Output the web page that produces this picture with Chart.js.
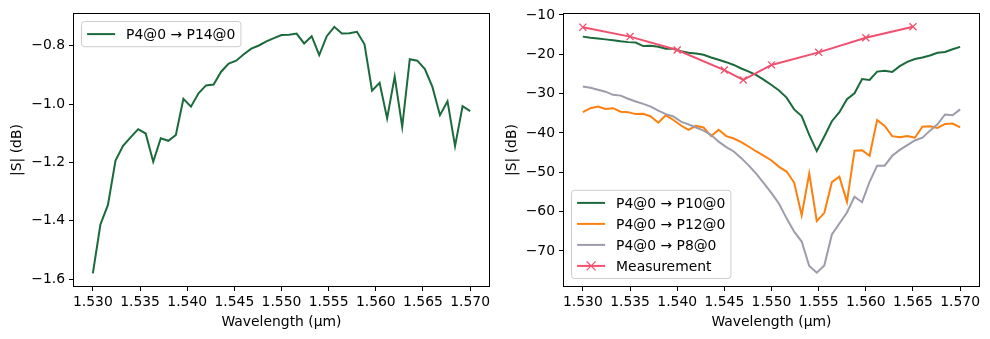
<!DOCTYPE html>
<html>
<head>
<meta charset="utf-8">
<script src="https://cdn.jsdelivr.net/npm/chart.js@4/dist/chart.umd.min.js"></script>
<style>
  body { margin: 0; background: #fff; }
  .wrap { position: absolute; top: 0; width: 495px; height: 339px; }
</style>
</head>
<body>
<div class="wrap" style="left:0"><canvas id="leftChart"></canvas></div>
<div class="wrap" style="left:495px"><canvas id="rightChart"></canvas></div>
<script>
// wavelength samples (µm)
const wavelengths = [1.5300, 1.5308, 1.5316, 1.5324, 1.5332, 1.5340, 1.5348, 1.5356, 1.5364, 1.5372,
    1.5380, 1.5388, 1.5396, 1.5404, 1.5412, 1.5420, 1.5428, 1.5436, 1.5444, 1.5452,
    1.5460, 1.5468, 1.5476, 1.5484, 1.5492, 1.5500, 1.5508, 1.5516, 1.5524, 1.5532,
    1.5540, 1.5548, 1.5556, 1.5564, 1.5572, 1.5580, 1.5588, 1.5596, 1.5604, 1.5612,
    1.5620, 1.5628, 1.5636, 1.5644, 1.5652, 1.5660, 1.5668, 1.5676, 1.5684, 1.5692, 1.5700];

const p14 = [-1.581, -1.413, -1.346, -1.194, -1.143, -1.114, -1.086, -1.101, -1.198, -1.117,
    -1.126, -1.106, -0.982, -1.009, -0.963, -0.936, -0.933, -0.889, -0.861, -0.851,
    -0.829, -0.810, -0.799, -0.785, -0.774, -0.763, -0.762, -0.758, -0.792, -0.767,
    -0.832, -0.767, -0.735, -0.758, -0.757, -0.752, -0.795, -0.954, -0.927, -1.049,
    -0.906, -1.078, -0.846, -0.851, -0.880, -0.941, -1.038, -0.990, -1.144, -1.007, -1.024];

const p10 = [-15.5, -15.8, -16.0, -16.2, -16.4, -16.7, -16.9, -17.0, -17.9, -17.8,
    -18.1, -18.6, -18.6, -19.2, -19.6, -19.8, -20.1, -20.8, -21.4, -22.0,
    -22.7, -23.6, -24.4, -25.3, -26.5, -27.8, -29.2, -31.0, -34.0, -35.7,
    -40.5, -44.6, -40.9, -37.0, -34.7, -31.4, -29.9, -26.3, -26.5, -24.4,
    -24.2, -24.5, -23.0, -21.9, -21.2, -20.8, -20.3, -19.6, -19.4, -18.7, -18.1];

const p12 = [-34.7, -33.7, -33.3, -33.9, -33.7, -34.6, -34.7, -35.2, -35.1, -35.8,
    -37.4, -35.5, -36.7, -38.1, -39.2, -38.2, -38.6, -40.8, -39.2, -40.8,
    -41.4, -42.3, -43.5, -44.7, -45.8, -47.0, -48.6, -49.8, -52.6, -60.9,
    -50.3, -62.4, -60.3, -52.5, -51.1, -57.5, -44.5, -44.4, -45.8, -36.7,
    -38.2, -40.8, -41.1, -40.8, -41.2, -38.4, -38.3, -38.7, -37.7, -37.6, -38.6];

const p8 = [-28.2, -28.5, -29.0, -29.5, -30.3, -30.5, -31.3, -32.0, -32.6, -33.3,
    -34.3, -35.2, -35.8, -37.1, -37.8, -38.6, -39.4, -40.5, -42.2, -43.6,
    -44.7, -46.4, -48.3, -50.4, -52.8, -55.3, -58.0, -61.7, -65.1, -67.6,
    -73.8, -75.5, -73.7, -65.8, -63.0, -60.2, -56.2, -57.6, -52.4, -48.3,
    -48.3, -45.8, -44.3, -43.1, -41.9, -41.2, -39.4, -37.8, -35.3, -35.5, -34.0];

const measX = [1.530, 1.535, 1.540, 1.545, 1.547, 1.550, 1.555, 1.560, 1.565];
const measY = [-13.1, -15.5, -18.9, -24.0, -26.5, -22.7, -19.5, -15.8, -13.0];

const xTicks = [1.530, 1.535, 1.540, 1.545, 1.550, 1.555, 1.560, 1.565, 1.570];
const yTicksLeft = [-1.6, -1.4, -1.2, -1.0, -0.8];
const yTicksRight = [-70, -60, -50, -40, -30, -20, -10];

const FONT = "'DejaVu Sans', sans-serif";
const FS = 13.9;
const GREEN = "#1b6a3b";
const ORANGE = "#ff7f0e";
const GRAY = "#9c9cab";
const PINK = "#f0506e";

function pts(xs, ys) {
    return ys.map((y, i) => ({ x: xs[i], y: y }));
}

function minusLabel(v, digits) {
    const s = Math.abs(v).toFixed(digits);
    return v < 0 ? "\u2212" + s : s;
}

// black frame round the plot area, like matplotlib spines
const framePlugin = {
    id: "frame",
    afterDatasetsDraw(chart) {
        const a = chart.chartArea;
        const ctx = chart.ctx;
        ctx.save();
        ctx.strokeStyle = "#000";
        ctx.lineWidth = 1;
        ctx.strokeRect(Math.round(a.left) - 0.5, Math.round(a.top) - 0.5,
            Math.round(a.right - a.left) + 1, Math.round(a.bottom - a.top) + 1);
        ctx.restore();
    }
};

// legend box inside the axes
const boxLegend = {
    id: "boxLegend",
    afterDraw(chart, args, opts) {
        const ctx = chart.ctx;
        const a = chart.chartArea;
        const sets = chart.data.datasets;
        ctx.save();
        ctx.font = FS + "px " + FONT;
        let textW = 0;
        sets.forEach((d) => { textW = Math.max(textW, ctx.measureText(d.label).width); });
        const pad = 5.6, rowH = 14, gap = 7, handle = 28, textPad = 11;
        const w = pad * 2 + handle + textPad + textW;
        const h = pad * 2 + sets.length * rowH + (sets.length - 1) * gap;
        const x = a.left + 7.5;
        const y = opts.corner === "lower" ? a.bottom - 7.5 - h : a.top + 7.5;

        ctx.beginPath();
        ctx.roundRect(x, y, w, h, 3);
        ctx.fillStyle = "rgba(255,255,255,0.8)";
        ctx.fill();
        ctx.strokeStyle = "#cccccc";
        ctx.lineWidth = 1;
        ctx.stroke();

        sets.forEach((d, i) => {
            const cy = y + pad + rowH / 2 + i * (rowH + gap);
            const lx = x + pad;
            ctx.strokeStyle = d.borderColor;
            ctx.lineWidth = 2;
            ctx.beginPath();
            ctx.moveTo(lx, cy);
            ctx.lineTo(lx + handle, cy);
            ctx.stroke();
            if (d.pointStyle === "crossRot") {
                const r = 4.5;
                const mx = lx + handle / 2;
                ctx.lineWidth = 1.3;
                ctx.beginPath();
                ctx.moveTo(mx - r, cy - r); ctx.lineTo(mx + r, cy + r);
                ctx.moveTo(mx - r, cy + r); ctx.lineTo(mx + r, cy - r);
                ctx.stroke();
            }
            ctx.fillStyle = "#000";
            ctx.textBaseline = "middle";
            ctx.fillText(d.label, lx + handle + textPad, cy + 1);
        });
        ctx.restore();
    }
};

function axisOptions(yMin, yMax, yTicks, yDigits, yWidth) {
    return {
        x: {
            type: "linear",
            min: 1.528,
            max: 1.572,
            afterBuildTicks: (s) => { s.ticks = xTicks.map((v) => ({ value: v })); },
            afterFit: (s) => { s.height = 53; },
            grid: { drawOnChartArea: false, drawTicks: true, tickLength: 5, color: "#000", lineWidth: 1 },
            border: { display: false },
            ticks: {
                color: "#000", padding: 3, maxRotation: 0, autoSkip: false,
                font: { family: FONT, size: FS },
                callback: (v) => Number(v).toFixed(3)
            },
            title: {
                display: true, text: "Wavelength (\u00b5m)", color: "#000",
                font: { family: FONT, size: FS }, padding: { top: 0, bottom: 8 }
            }
        },
        y: {
            min: yMin,
            max: yMax,
            afterBuildTicks: (s) => { s.ticks = yTicks.map((v) => ({ value: v })); },
            afterFit: (s) => { s.width = yWidth; },
            grid: { drawOnChartArea: false, drawTicks: true, tickLength: 5, color: "#000", lineWidth: 1 },
            border: { display: false },
            ticks: {
                color: "#000", padding: 4, autoSkip: false,
                font: { family: FONT, size: FS },
                callback: (v) => minusLabel(v, yDigits)
            },
            title: {
                display: true, text: "|S| (dB)", color: "#000",
                font: { family: FONT, size: FS }, padding: { top: 9, bottom: 0 }
            }
        }
    };
}

const common = {
    responsive: true,
    maintainAspectRatio: false,
    animation: false,
    events: [],
    elements: { point: { radius: 0 }, line: { tension: 0, borderWidth: 2 } }
};

new Chart(document.getElementById("leftChart"), {
    type: "line",
    data: {
        datasets: [{
            label: "P4@0 \u2192 P14@0",
            data: pts(wavelengths, p14),
            borderColor: GREEN,
            backgroundColor: GREEN,
            fill: false
        }]
    },
    options: Object.assign({}, common, {
        layout: { padding: { left: 0, right: 6, top: 14, bottom: 0 } },
        scales: axisOptions(-1.624, -0.691, yTicksLeft, 1, 74),
        plugins: { legend: { display: false }, tooltip: { enabled: false }, boxLegend: { corner: "upper" } }
    }),
    plugins: [framePlugin, boxLegend]
});

new Chart(document.getElementById("rightChart"), {
    type: "line",
    data: {
        datasets: [
            { label: "P4@0 \u2192 P10@0", data: pts(wavelengths, p10), borderColor: GREEN, backgroundColor: GREEN, order: 3 },
            { label: "P4@0 \u2192 P12@0", data: pts(wavelengths, p12), borderColor: ORANGE, backgroundColor: ORANGE, order: 2 },
            { label: "P4@0 \u2192 P8@0", data: pts(wavelengths, p8), borderColor: GRAY, backgroundColor: GRAY, order: 1 },
            {
                label: "Measurement", data: pts(measX, measY), borderColor: PINK, backgroundColor: PINK, order: 0,
                pointStyle: "crossRot", pointRadius: 5, pointBorderWidth: 1.3
            }
        ]
    },
    options: Object.assign({}, common, {
        layout: { padding: { left: 0, right: 11, top: 14, bottom: 0 } },
        scales: axisOptions(-78.9, -9.75, yTicksRight, 0, 69),
        plugins: { legend: { display: false }, tooltip: { enabled: false }, boxLegend: { corner: "lower" } }
    }),
    plugins: [framePlugin, boxLegend]
});
</script>
</body>
</html>
